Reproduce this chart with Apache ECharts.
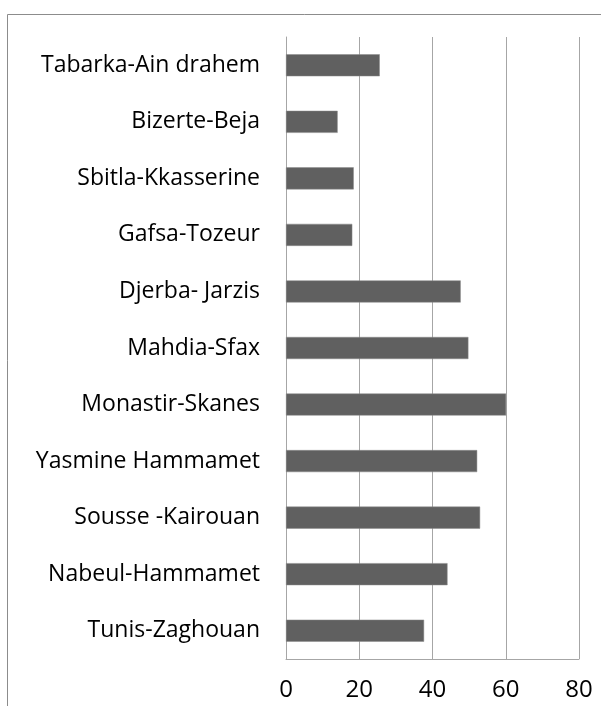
<!DOCTYPE html>
<html>
<head>
<meta charset="utf-8">
<script src="https://cdn.jsdelivr.net/npm/echarts@6/dist/echarts.min.js"></script>
<style>
  html, body { margin: 0; padding: 0; background: #fff; }
  #chart { width: 601px; height: 706px; }
</style>
</head>
<body>
<div id="chart"></div>
<script>
// categories listed bottom to top
const regions = [
  'Tunis-Zaghouan',
  'Nabeul-Hammamet',
  'Sousse -Kairouan',
  'Yasmine Hammamet',
  'Monastir-Skanes',
  'Mahdia-Sfax',
  'Djerba- Jarzis',
  'Gafsa-Tozeur',
  'Sbitla-Kkasserine',
  'Bizerte-Beja',
  'Tabarka-Ain drahem'
]
const values = [37.7, 44.1, 53.0, 52.2, 60.1, 49.8, 47.7, 18.1, 18.5, 14.1, 25.6]
const xTicks = [0, 20, 40, 60, 80]

const font = '"Open Sans", "Noto Sans", sans-serif'
const chart = echarts.init(document.getElementById('chart'))

const option = {
  animation: false,
  backgroundColor: '#fff',
  graphic: [
    {
      // outer frame, runs off the right and bottom edges
      type: 'rect',
      shape: { x: 7.5, y: 14.5, width: 700, height: 800 },
      style: { fill: 'none', stroke: '#8c8c8c', lineWidth: 1 },
      silent: true
    }
  ],
  grid: {
    left: 286,
    right: 22,
    top: 37,
    bottom: 47
  },
  xAxis: {
    type: 'value',
    min: xTicks[0],
    max: xTicks[xTicks.length - 1],
    interval: xTicks[1] - xTicks[0],
    axisLine: { show: true, lineStyle: { color: '#a6a6a6', width: 1 } },
    axisTick: { show: false },
    axisLabel: {
      margin: 19,
      fontSize: 24,
      color: '#000',
      fontFamily: font
    },
    splitLine: { show: true, lineStyle: { color: '#a6a6a6', width: 1 } }
  },
  yAxis: {
    type: 'category',
    data: regions,
    axisLine: { show: true, lineStyle: { color: '#a6a6a6', width: 1 } },
    axisTick: { show: false },
    axisLabel: {
      margin: 26,
      fontSize: 23,
      color: '#000',
      fontFamily: font
    }
  },
  series: [
    {
      type: 'bar',
      data: values,
      barCategoryGap: '61%',
      itemStyle: {
        color: '#606060',
        borderColor: '#8a8a8a',
        borderWidth: 0.5
      }
    }
  ]
}

chart.setOption(option)
</script>
</body>
</html>
